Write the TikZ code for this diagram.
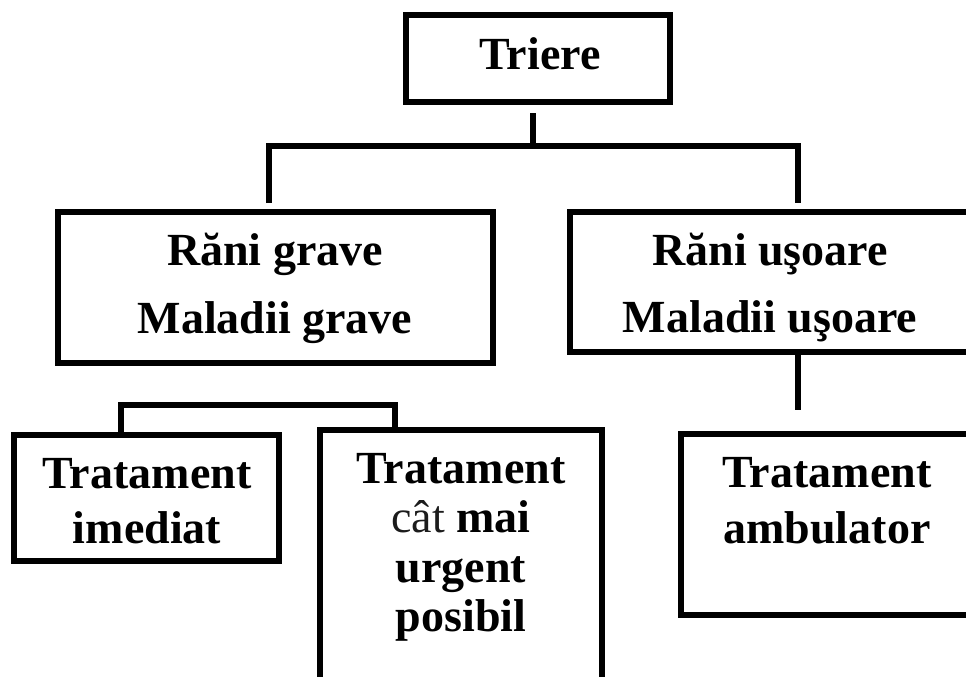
\documentclass[tikz,border=0pt]{standalone}
\usepackage{fontspec}
\setmainfont{Liberation Serif}
\definecolor{softink}{HTML}{1C1C1C}
\begin{document}
\begin{tikzpicture}[x=1pt,y=-1pt,
  box/.style={draw=black,line width=6pt,rectangle,inner sep=0pt,outer sep=0pt},
  lbl/.style={anchor=base,align=center,inner sep=0pt,text=black},
  conn/.style={draw=black,line width=6pt,line join=miter}]
\useasboundingbox (0,0) rectangle (966,677);
\clip (0,0) rectangle (966,677);
\fill[white] (0,0) rectangle (966,677);

% frames
\node[box,minimum width=264pt,minimum height=87pt]  (tr) at (538,58.5) {};
\node[box,minimum width=435pt,minimum height=151pt] (rg) at (275.5,287.5) {};
\node[box,minimum width=402pt,minimum height=140pt] (ru) at (771,282) {};
\node[box,minimum width=265pt,minimum height=126pt] (ti) at (146.5,498) {};
\node[box,minimum width=282pt,minimum height=270pt] (tc) at (461,565) {};
\node[box,minimum width=292pt,minimum height=181pt] (ta) at (827,524.5) {};

% captions (base anchor sits on the last line)
\node[lbl,font=\fontsize{46}{68}\selectfont\bfseries] (tr-t) at (540,70) {Triere};
\node[lbl,font=\fontsize{46}{68}\selectfont\bfseries] (rg-t) at (275,333) {Răni grave\\Maladii grave};
\node[lbl,font=\fontsize{46}{67}\selectfont\bfseries] (ru-t) at (770,332) {Răni uşoare\\Maladii uşoare};
\node[lbl,font=\fontsize{46}{55}\selectfont\bfseries] (ti-t) at (147,543) {Tratament\\imediat};
\node[lbl,font=\fontsize{46}{49.5}\selectfont\bfseries] (tc-t) at (461,631.5) {Tratament\\{\mdseries\color{softink}cât} mai\\urgent\\posibil};
\node[lbl,font=\fontsize{46}{56}\selectfont\bfseries] (ta-t) at (827,543) {Tratament\\ambulator};

% junction points
\coordinate (j0) at (533,146);
\coordinate (jl) at (269,146);
\coordinate (jr) at (798,146);
\coordinate (kl) at (121,405);
\coordinate (kr) at (395,405);
\coordinate (ku) at (798,410);

% connectors
\draw[conn] (533,113) -- (j0);
\draw[conn] (jl |- 0,203) -- (jl) -- (jr) -- (jr |- 0,203);
\draw[conn] (ru.south -| ku) ++(0,3) -- (ku);
\draw[conn] (kl |- ti.north) -- (kl) -- (kr) -- (kr |- 0,433);
\end{tikzpicture}
\end{document}
